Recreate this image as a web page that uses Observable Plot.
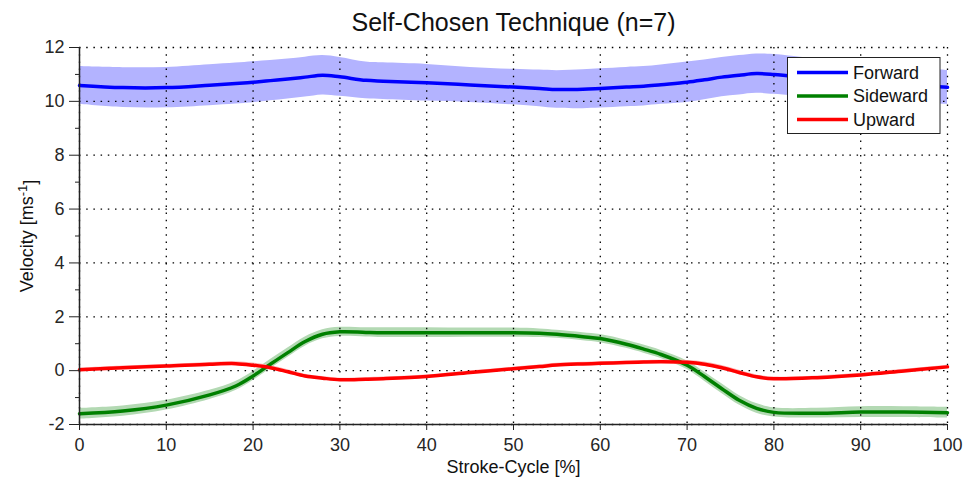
<!DOCTYPE html>
<html><head><meta charset="utf-8">
<script src="https://cdn.jsdelivr.net/npm/d3@7"></script>
<script src="https://cdn.jsdelivr.net/npm/@observablehq/plot@0.6"></script>
<style>body{margin:0;background:#fff} svg{display:block}</style>
</head><body><div id="chart"></div>
<script>
const title = "Self-Chosen Technique (n=7)";
const xLabel = "Stroke-Cycle [%]";
const yLabelMain = "Velocity [ms";
const yLabelSup = "-1";
const yLabelEnd = "]";

const cycle = [0,5,10,15,18,20,22,24,26,28,30,33,35,40,45,50,53,55,58,60,63,65,67,70,72,74,76,78,80,85,90,95,100];

const forwardMean = [10.59,10.51,10.51,10.60,10.66,10.71,10.77,10.83,10.90,10.97,10.91,10.78,10.75,10.69,10.61,10.53,10.48,10.44,10.45,10.48,10.53,10.56,10.62,10.71,10.80,10.90,10.97,11.03,11.00,10.85,10.72,10.62,10.52];
const forwardSD   = [0.70,0.74,0.75,0.76,0.76,0.76,0.75,0.74,0.74,0.73,0.72,0.68,0.68,0.68,0.65,0.66,0.68,0.70,0.72,0.73,0.73,0.73,0.73,0.75,0.74,0.73,0.73,0.73,0.74,0.72,0.70,0.66,0.63];

const sidewardMean = [-1.60,-1.50,-1.28,-0.90,-0.57,-0.20,0.24,0.67,1.08,1.35,1.44,1.42,1.41,1.41,1.41,1.41,1.39,1.35,1.26,1.19,0.98,0.80,0.60,0.20,-0.22,-0.67,-1.10,-1.40,-1.55,-1.58,-1.54,-1.54,-1.56];
const sidewardSD   = [0.20,0.19,0.18,0.17,0.17,0.17,0.17,0.17,0.17,0.17,0.17,0.17,0.18,0.18,0.17,0.17,0.16,0.15,0.15,0.15,0.15,0.15,0.15,0.16,0.17,0.18,0.18,0.18,0.17,0.18,0.20,0.20,0.20];

const upwardMean = [0.03,0.11,0.17,0.24,0.26,0.20,0.11,-0.04,-0.20,-0.28,-0.34,-0.32,-0.30,-0.22,-0.07,0.07,0.15,0.21,0.25,0.27,0.30,0.32,0.33,0.31,0.24,0.11,-0.07,-0.23,-0.30,-0.26,-0.16,-0.01,0.14];
const upwardSD   = [0.06,0.06,0.06,0.06,0.07,0.08,0.08,0.07,0.07,0.06,0.06,0.06,0.06,0.06,0.06,0.06,0.06,0.06,0.06,0.06,0.06,0.06,0.06,0.07,0.08,0.08,0.08,0.07,0.06,0.06,0.06,0.06,0.06];

const seriesNames = ["Forward","Sideward","Upward"];
const lineColors = ["#0000ff","#008000","#ff0000"];
const bandColors = ["#b3b3ff","#b3d9b3","#ffb3b3"];
const means = [forwardMean, sidewardMean, upwardMean];
const sds = [forwardSD, sidewardSD, upwardSD];

const xTicks = [0,10,20,30,40,50,60,70,80,90,100];
const yTicks = [-2,0,2,4,6,8,10,12];
const yMinorTicks = [-1,1,3,5,7,9,11];

const series = seriesNames.map((name, k) => ({
  name, line: lineColors[k], band: bandColors[k],
  rows: cycle.map((x, i) => ({x, m: means[k][i], lo: means[k][i] - sds[k][i], hi: means[k][i] + sds[k][i]}))
}));

const gridStyle = {stroke: "black", strokeOpacity: 1, strokeWidth: 1.3, strokeDasharray: "1.5,5.7"};
const fmt = d => String(d);
const curve = "catmull-rom";

const chart = Plot.plot({
  width: 964, height: 483,
  marginLeft: 79, marginRight: 17, marginTop: 47, marginBottom: 59,
  style: {fontFamily: "'Liberation Sans', Arial, sans-serif", fontSize: "18px", color: "#262626", background: "#fff"},
  x: {domain: [0, 100], label: null},
  y: {domain: [-2, 12], label: null},
  marks: [
    ...series.map(s => Plot.areaY(s.rows, {x: "x", y1: "lo", y2: "hi", fill: s.band, curve})),
    Plot.gridX(xTicks, gridStyle),
    Plot.gridY(yTicks, gridStyle),
    ...series.map(s => Plot.lineY(s.rows, {x: "x", y: "m", stroke: s.line, strokeWidth: 3.5, curve})),
    Plot.ruleX([0], {stroke: "#222", strokeWidth: 1.5}),
    Plot.ruleY([-2], {stroke: "#222", strokeWidth: 1.5}),
    Plot.axisX(xTicks, {tickSize: 6, tickPadding: 8, tickFormat: fmt, label: null, stroke: "#222", fill: "#262626"}),
    Plot.axisY(yTicks, {tickSize: 10, tickPadding: 5, tickFormat: fmt, label: null, stroke: "#222", fill: "#262626"}),
    Plot.axisY(yMinorTicks, {tickSize: 4, label: null, stroke: "#222", fill: "none"}),
    Plot.text([title], {frameAnchor: "top", dy: -25, fontSize: 25, fill: "#111", lineAnchor: "middle"}),
    Plot.text([xLabel], {frameAnchor: "bottom", dy: 43, fontSize: 18, fill: "#111", lineAnchor: "middle"}),
    Plot.text([yLabelMain + yLabelSup + yLabelEnd], {frameAnchor: "left", dx: -52, rotate: -90, fontSize: 18, fill: "#111", lineAnchor: "middle", textAnchor: "middle"})
  ]
});

document.getElementById("chart").appendChild(chart);

// superscript in y label
const svg = d3.select(chart);
svg.selectAll("text").filter(function() { return this.textContent === yLabelMain + yLabelSup + yLabelEnd; })
  .each(function() {
    const t = d3.select(this);
    t.text(null);
    t.append("tspan").text(yLabelMain);
    t.append("tspan").attr("dy", "-0.45em").attr("font-size", "13px").text(yLabelSup);
    t.append("tspan").attr("dy", "0.45em").text(yLabelEnd);
  });

// legend
const lg = svg.append("g").attr("font-family", "'Liberation Sans', Arial, sans-serif").attr("font-size", 18).attr("text-anchor", "start");
lg.append("rect").attr("x", 787.5).attr("y", 57.5).attr("width", 152.5).attr("height", 76)
  .attr("fill", "#fff").attr("stroke", "#222").attr("stroke-width", 1);
seriesNames.forEach((name, i) => {
  const y = 72.5 + i * 23.5;
  lg.append("line").attr("x1", 797).attr("x2", 848).attr("y1", y).attr("y2", y)
    .attr("stroke", lineColors[i]).attr("stroke-width", 3.5);
  lg.append("text").attr("x", 853).attr("y", y).attr("dy", "0.35em").attr("fill", "#111").text(name);
});
</script></body></html>
